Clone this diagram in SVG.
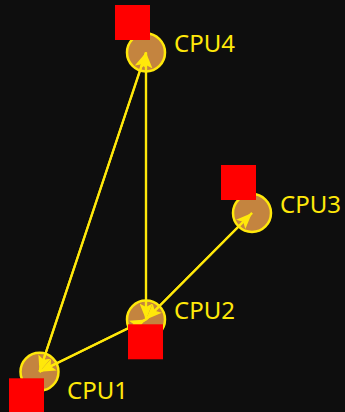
<svg xmlns="http://www.w3.org/2000/svg" width="345" height="412" viewBox="0 0 345 412">
<style>
.node circle{fill:#c4843f;stroke:#ffe80a;stroke-width:2.5}
.node rect{fill:#ff0000}
.node text{fill:#ffe80a;font-family:"Noto Sans",sans-serif;font-size:24px}
.edge{stroke:#ffe80a;stroke-width:2.2;fill:none;marker-end:url(#arr)}
</style>
<defs>
<marker id="arr" markerUnits="userSpaceOnUse" markerWidth="17" markerHeight="13" refX="16" refY="6.5" orient="auto">
<path d="M0,0 L16,6.5 L0,13 L3.5,6.5 z" fill="#ffe80a"/>
</marker>
</defs>
<rect width="345" height="412" fill="#0e0e0e"/>
<g id="cpu4" class="node"><circle cx="146" cy="52.5" r="19"/></g>
<g id="cpu3" class="node"><circle cx="252" cy="213" r="19"/></g>
<g id="cpu2" class="node"><circle cx="146" cy="319.5" r="19"/></g>
<g id="cpu1" class="node"><circle cx="39.5" cy="371.7" r="19"/></g>
<g id="connectors">
<line class="edge" x1="39.5" y1="371.7" x2="146" y2="52.5"/>
<line class="edge" x1="146" y1="52.5" x2="39.5" y2="371.7"/>
<line class="edge" x1="146" y1="319.5" x2="146" y2="52.5"/>
<line class="edge" x1="146" y1="52.5" x2="146" y2="319.5"/>
<line class="edge" x1="146" y1="319.5" x2="252" y2="213"/>
<line class="edge" x1="252" y1="213" x2="146" y2="319.5"/>
<line class="edge" x1="146" y1="319.5" x2="39.5" y2="371.7"/>
<line class="edge" x1="39.5" y1="371.7" x2="146" y2="319.5"/>
</g>
<g id="cpu4-label" class="node"><rect x="115" y="5" width="35" height="35"/><text x="174" y="52.3">CPU4</text></g>
<g id="cpu3-label" class="node"><rect x="221" y="165" width="35" height="35"/><text x="280" y="213">CPU3</text></g>
<g id="cpu2-label" class="node"><rect x="128" y="324.3" width="35" height="35"/><text x="174" y="319">CPU2</text></g>
<g id="cpu1-label" class="node"><rect x="9" y="378.3" width="35" height="35"/><text x="67" y="399.3">CPU1</text></g>
</svg>
